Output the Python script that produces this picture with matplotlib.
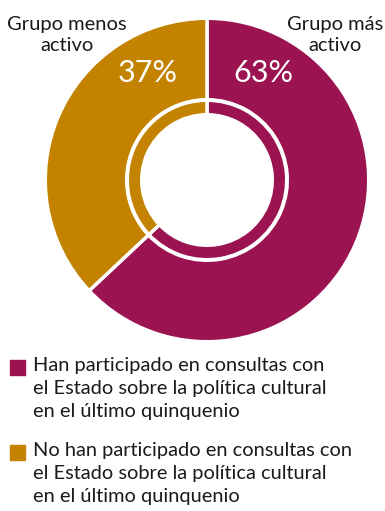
import matplotlib
matplotlib.use("Agg")
import matplotlib.pyplot as plt
from matplotlib.patches import Rectangle

plt.rcParams['font.family'] = ['Lato', 'DejaVu Sans']

# share of organisations in each group (%)
shares = [63, 37]
groups = ["Grupo más\nactivo", "Grupo menos\nactivo"]
legend_labels = [
    "Han participado en consultas con\nel Estado sobre la política cultural\nen el último quinquenio",
    "No han participado en consultas con\nel Estado sobre la política cultural\nen el último quinquenio",
]
colors = ["#9C1352", "#C38300"]

W, H = 385, 511
fig = plt.figure(figsize=(W / 100, H / 100), dpi=100)
ax = fig.add_axes([0, 0, 1, 1])

cx, cy = 207, H - 180
lw = 2.5  # white separators, in points
half = lw / 0.72 / 2  # half of the edge in pixels

# outer ring
ax.pie(shares, colors=colors, startangle=90, counterclock=False,
       center=(cx, cy), radius=160 + half, frame=True,
       wedgeprops=dict(width=78 + 2 * half, edgecolor="white", linewidth=lw))
# thin inner ring
ax.pie(shares, colors=colors, startangle=90, counterclock=False,
       center=(cx, cy), radius=78 + half, frame=True,
       wedgeprops=dict(width=11 + 2 * half, edgecolor="white", linewidth=lw))

ax.set_xlim(0, W)
ax.set_ylim(0, H)
ax.set_aspect("equal")
ax.axis("off")

# percentages
ax.text(263, H - 73, f"{shares[0]}%", color="white", fontsize=22,
        ha="center", va="center")
ax.text(148, H - 73, f"{shares[1]}%", color="white", fontsize=22,
        ha="center", va="center")

# group names above the ring
ax.text(335, H - 35, groups[0], fontsize=14.5, ha="center", va="center",
        multialignment="center", linespacing=1.35, color="#1a1a1a")
ax.text(67, H - 35, groups[1], fontsize=14.5, ha="center", va="center",
        multialignment="center", linespacing=1.35, color="#1a1a1a")

# legend
for i, (lab, col) in enumerate(zip(legend_labels, colors)):
    top = 360 + i * 85
    ax.add_patch(Rectangle((10, H - top - 15), 15, 15, color=col))
    ax.text(33, H - top + 3, lab, fontsize=14.4, ha="left", va="top",
            linespacing=1.42, color="#1a1a1a")

fig.savefig("out.png", dpi=100)
